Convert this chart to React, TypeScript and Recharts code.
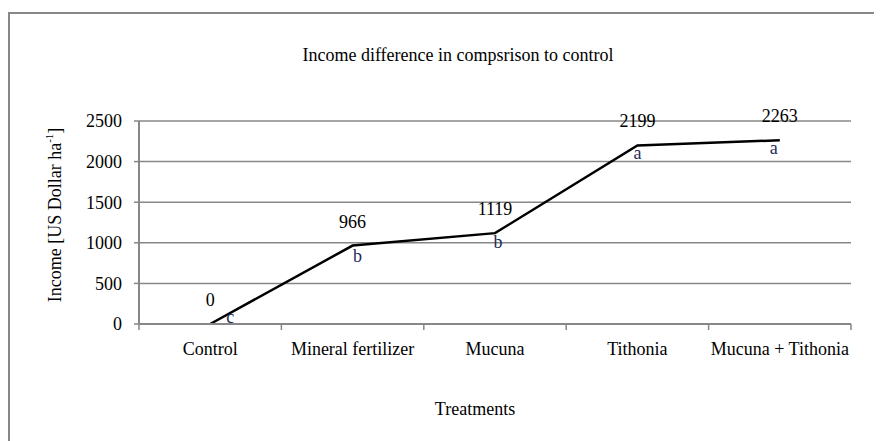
import { CartesianGrid, LabelList, Line, LineChart, XAxis, YAxis } from "recharts";

const treatments = ["Control", "Mineral fertilizer", "Mucuna", "Tithonia", "Mucuna + Tithonia"];
const income = [0, 966, 1119, 2199, 2263];
const groups = ["c", "b", "b", "a", "a"];
const yTicks = [0, 500, 1000, 1500, 2000, 2500];

// where each significance letter sits relative to its point
const letterShift = [
  [20, -1],
  [5, 16],
  [3, 15],
  [0, 14],
  [-6, 14],
];

const data = treatments.map((name, i) => ({ name, income: income[i], group: groups[i] }));

const font = "'Liberation Serif', 'Times New Roman', serif";
const grey = "#878787";
const size = 18;

function ValueLabel(props: any) {
  const { x, y, value } = props;
  return (
    <text x={x} y={y - 18} textAnchor="middle" fontFamily={font} fontSize={size} fill="#000">
      {value}
    </text>
  );
}

function LetterLabel(props: any) {
  const { x, y, value, index } = props;
  const [dx, dy] = letterShift[index] || [0, 14];
  return (
    <text x={x + dx} y={y + dy} textAnchor="middle" fontFamily={font} fontSize={size} fill="#1f2a5a">
      {value}
    </text>
  );
}

// category label plus the tick marks that sit between the categories
function CategoryTick(props: any) {
  const { x, y, payload, index, visibleTicksCount } = props;
  const half = payload.offset || 0;
  const top = y - 18;
  return (
    <g>
      <line x1={x - half} x2={x - half} y1={top} y2={top + 6} stroke={grey} strokeWidth={1.5} />
      {index === visibleTicksCount - 1 && (
        <line x1={x + half} x2={x + half} y1={top} y2={top + 6} stroke={grey} strokeWidth={1.5} />
      )}
      <text x={x} y={y} dy="0.71em" textAnchor="middle" fontFamily={font} fontSize={size} fill="#000">
        {payload.value}
      </text>
    </g>
  );
}

function YTitle(props: any) {
  const { viewBox } = props;
  const cx = viewBox.x - 24;
  const cy = 207;
  return (
    <text
      x={cx}
      y={cy}
      transform={`rotate(-90, ${cx}, ${cy})`}
      textAnchor="middle"
      dominantBaseline="central"
      fontFamily={font}
      fontSize={size}
      fill="#000"
    >
      Income [US Dollar ha
      <tspan baselineShift="super" fontSize={11}>-1</tspan>]
    </text>
  );
}

export default function App() {
  return (
    <div style={{ position: "relative", width: 874, height: 433, overflow: "hidden" }}>
      <div
        style={{
          position: "absolute",
          left: 0,
          top: 4,
          width: 900,
          height: 500,
          border: `2px solid ${grey}`,
          boxSizing: "border-box",
        }}
      />
      <div
        style={{
          position: "absolute",
          left: 0,
          top: 37,
          width: 900,
          textAlign: "center",
          fontFamily: font,
          fontSize: size,
          color: "#000",
        }}
      >
        Income difference in compsrison to control
      </div>
      <LineChart width={874} height={433} data={data} margin={{ top: 113, right: 31, bottom: 18, left: 71 }}>
        <CartesianGrid vertical={false} stroke={grey} strokeWidth={1.5} />
        <XAxis
          dataKey="name"
          scale="band"
          interval={0}
          height={99}
          tickLine={false}
          tickSize={6}
          tickMargin={12}
          axisLine={{ stroke: grey, strokeWidth: 2 }}
          tick={<CategoryTick />}
          label={{ value: "Treatments", position: "insideBottom", offset: 8, dx: -20, fill: "#000", fontSize: size, fontFamily: font }}
        />
        <YAxis
          domain={[0, 2500]}
          ticks={yTicks}
          width={60}
          tickSize={5}
          tickMargin={12}
          axisLine={{ stroke: grey, strokeWidth: 2 }}
          tickLine={{ stroke: grey, strokeWidth: 1.5 }}
          tick={{ fill: "#000", fontSize: size, fontFamily: font }}
          label={<YTitle />}
        />
        <Line
          type="linear"
          dataKey="income"
          stroke="#000"
          strokeWidth={2.5}
          dot={false}
          activeDot={false}
          isAnimationActive={false}
        >
          <LabelList dataKey="income" content={<ValueLabel />} />
          <LabelList dataKey="group" content={<LetterLabel />} />
        </Line>
      </LineChart>
    </div>
  );
}
